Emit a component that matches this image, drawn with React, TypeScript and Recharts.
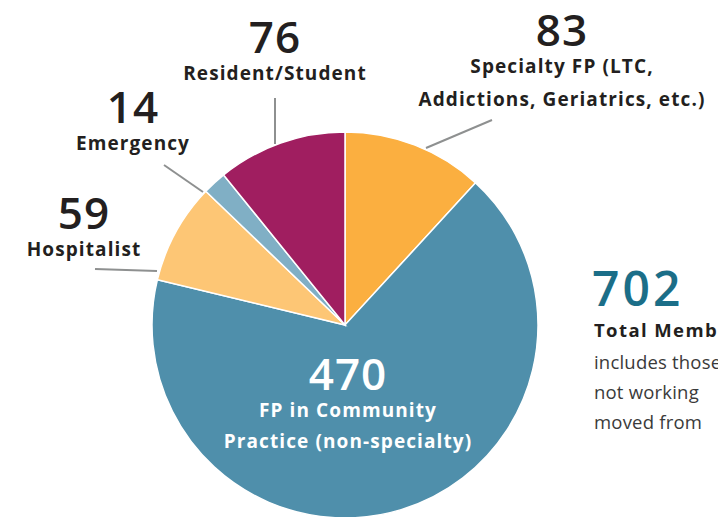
import React from 'react';
import { PieChart, Pie, Cell } from 'recharts';

const categories = [
  'Specialty FP (LTC,|Addictions, Geriatrics, etc.)',
  'FP in Community|Practice (non-specialty)',
  'Hospitalist',
  'Emergency',
  'Resident/Student',
];
const values = [83, 470, 59, 14, 76];
const colors = ['#FBAF40', '#4F8FAB', '#FDC675', '#80AFC5', '#A01E60'];
const totalLabel = 702;
const noteLines = ['includes those', 'not working', 'moved from'];

// where each slice's label sits (x, y of the number) and its leader line
const labelLayout = [
  { x: 562, y: 46, gap: 33, line: [426, 148, 492, 120] },
  { x: 348, y: 390, gap: 31, line: null },
  { x: 84, y: 229, gap: 32, line: [95, 269, 157, 271] },
  { x: 133, y: 123, gap: 32, line: [164, 165, 203, 192] },
  { x: 275, y: 53, gap: 32, line: [275, 98, 275, 144] },
];

const FONT = "'Open Sans', sans-serif";

const data = categories.map((name, i) => ({ name, value: values[i] }));

function SliceLabel(props: any) {
  const i = props.index;
  const l = labelLayout[i];
  const inside = l.line === null;
  const fill = inside ? '#ffffff' : '#231F20';
  const lines = String(props.name).split('|');
  return (
    <g>
      {l.line && (
        <line x1={l.line[0]} y1={l.line[1]} x2={l.line[2]} y2={l.line[3]} stroke="#8E9090" strokeWidth={2} />
      )}
      <text x={l.x} y={l.y} textAnchor="middle" fill={fill} fontFamily={FONT} fontWeight={600} fontSize={44} letterSpacing={1}>
        {props.value}
      </text>
      {lines.map((t, k) => (
        <text key={k} x={l.x} y={l.y + 27 + k * l.gap} textAnchor="middle" fill={fill} fontFamily={FONT} fontWeight={700} fontSize={19} letterSpacing={1.1}>
          {t}
        </text>
      ))}
    </g>
  );
}

export default function App() {
  return (
    <div style={{ position: 'absolute', left: 0, top: 0, width: 718, height: 517, background: '#fff', overflow: 'hidden' }}>
      <PieChart width={718} height={517} margin={{ top: 0, right: 0, bottom: 0, left: 0 }}>
        <Pie
          data={data}
          dataKey="value"
          nameKey="name"
          cx={345}
          cy={325}
          outerRadius={193}
          startAngle={90}
          endAngle={-270}
          stroke="#ffffff"
          strokeWidth={1.5}
          label={SliceLabel}
          labelLine={false}
          isAnimationActive={false}
        >
          {data.map((d, i) => (
            <Cell key={d.name} fill={colors[i]} />
          ))}
        </Pie>
        <text x={592} y={306} fill="#1B6E88" fontFamily={FONT} fontWeight={600} fontSize={48} letterSpacing={3}>
          {totalLabel}
        </text>
        <text x={594} y={337} fill="#231F20" fontFamily={FONT} fontWeight={700} fontSize={18.5} letterSpacing={1.4}>
          Total Members
        </text>
        {noteLines.map((t, k) => (
          <text key={t} x={594} y={369 + k * 30} fill="#3A3A3A" fontFamily={FONT} fontSize={18.5} letterSpacing={0.2}>
            {t}
          </text>
        ))}
      </PieChart>
    </div>
  );
}
